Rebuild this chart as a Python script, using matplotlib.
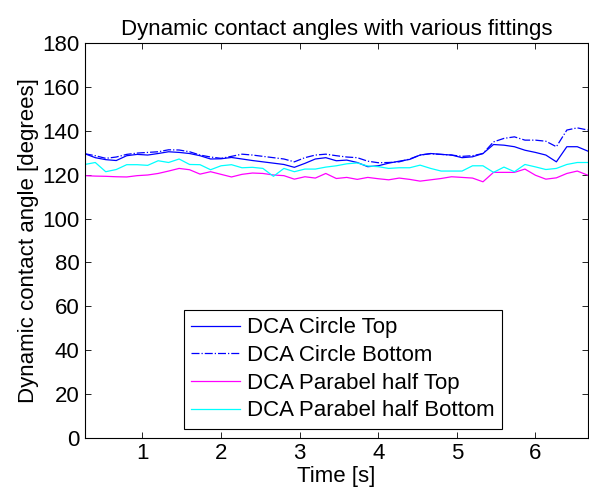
import matplotlib
matplotlib.use('Agg')
import matplotlib.pyplot as plt

plt.rcParams['font.family'] = ['Liberation Sans', 'DejaVu Sans']

# -------------------------- data --------------------------
time_s = [0.267, 0.400, 0.533, 0.667, 0.800, 0.933, 1.067, 1.200, 1.333, 1.467,
          1.600, 1.733, 1.867, 2.000, 2.133, 2.267, 2.400, 2.533, 2.667, 2.800,
          2.933, 3.067, 3.200, 3.333, 3.467, 3.600, 3.733, 3.867, 4.000, 4.133,
          4.267, 4.400, 4.533, 4.667, 4.800, 4.933, 5.067, 5.200, 5.333, 5.467,
          5.600, 5.733, 5.867, 6.000, 6.133, 6.267, 6.400, 6.533, 6.667]

circle_top = [129.6, 127.8, 126.9, 126.5, 128.7, 129.3, 129.0, 129.7, 130.5, 130.2,
              129.7, 128.7, 127.2, 127.3, 127.9, 127.2, 126.5, 125.9, 125.3, 124.7,
              123.4, 125.2, 127.2, 127.8, 126.4, 126.7, 125.6, 123.7, 124.1, 125.3,
              126.2, 127.0, 129.0, 129.7, 129.3, 129.0, 127.8, 128.2, 129.7, 133.8,
              133.5, 132.8, 131.2, 130.2, 129.0, 125.9, 132.8, 132.8, 130.8]

circle_bottom = [129.6, 128.7, 127.5, 128.1, 129.3, 129.9, 130.2, 130.5, 131.4, 131.3,
                 130.5, 129.0, 128.1, 127.5, 128.4, 129.4, 129.0, 128.4, 127.8, 127.2,
                 125.9, 127.8, 129.0, 129.4, 128.7, 128.1, 127.8, 126.2, 125.5, 125.6,
                 125.9, 127.2, 129.0, 129.6, 129.3, 129.0, 128.4, 128.7, 129.7, 135.0,
                 136.6, 137.3, 135.8, 135.8, 135.3, 132.8, 140.4, 141.4, 140.4]

parabel_top = [119.6, 119.4, 119.3, 119.1, 119.0, 119.6, 119.9, 120.6, 121.7, 122.9,
               122.3, 120.3, 121.4, 120.2, 119.0, 120.2, 120.8, 120.6, 119.9, 119.6,
               118.0, 119.1, 118.5, 120.6, 118.3, 118.8, 117.9, 118.8, 118.2, 117.7,
               118.5, 117.9, 117.1, 117.7, 118.3, 119.1, 118.8, 118.5, 116.8, 121.1,
               121.1, 121.1, 122.6, 119.8, 118.0, 118.6, 120.6, 121.7, 119.8]

parabel_bottom = [124.7, 125.6, 121.4, 122.4, 124.6, 124.6, 124.3, 126.4, 125.6, 127.2,
                  124.7, 124.6, 122.3, 124.1, 124.6, 123.2, 123.4, 122.9, 119.3, 122.9,
                  121.4, 122.6, 122.6, 123.5, 124.1, 125.0, 125.4, 124.0, 123.7, 122.9,
                  123.2, 123.2, 124.4, 122.9, 121.7, 121.7, 121.7, 124.1, 124.1, 121.1,
                  123.5, 121.4, 124.7, 123.6, 122.4, 122.9, 124.7, 125.6, 125.6]

labels = ['DCA Circle Top', 'DCA Circle Bottom',
          'DCA Parabel half Top', 'DCA Parabel half Bottom']

# -------------------------- plot --------------------------
fs = 16
fig = plt.figure(figsize=(5.89, 4.97), dpi=100)
ax = fig.add_axes([0.144, 0.119, 0.854, 0.794])

ax.plot(time_s, circle_top, '-', color='#0000ff', lw=0.9, label=labels[0])
ax.plot(time_s, circle_bottom, '-.', color='#0000ff', lw=0.9, label=labels[1])
ax.plot(time_s, parabel_top, '-', color='#ff00ff', lw=0.9, label=labels[2])
ax.plot(time_s, parabel_bottom, '-', color='#00ffff', lw=0.9, label=labels[3])

ax.set_xlim(time_s[0], time_s[-1])
ax.set_ylim(0, 180)
ax.set_xticks([1, 2, 3, 4, 5, 6])
ax.set_yticks(range(0, 181, 20))
ax.tick_params(direction='in', top=True, right=True, length=4, width=0.6,
               labelsize=fs, pad=4)
for s in ax.spines.values():
    s.set_linewidth(0.8)

ax.set_xlabel('Time [s]', fontsize=fs, labelpad=1)
ax.set_ylabel('Dynamic contact angle [degrees]', fontsize=fs, labelpad=2)
ax.set_title('Dynamic contact angles with various fittings', fontsize=fs, pad=6)

leg = ax.legend(loc='lower left', bbox_to_anchor=(0.197, 0.023), fontsize=fs,
                frameon=True, fancybox=False, edgecolor='black', framealpha=1,
                borderaxespad=0, handlelength=2.2, handletextpad=0.3,
                labelspacing=0.3, borderpad=0.33)
leg.get_frame().set_linewidth(0.8)

fig.savefig('out.png', dpi=100)
